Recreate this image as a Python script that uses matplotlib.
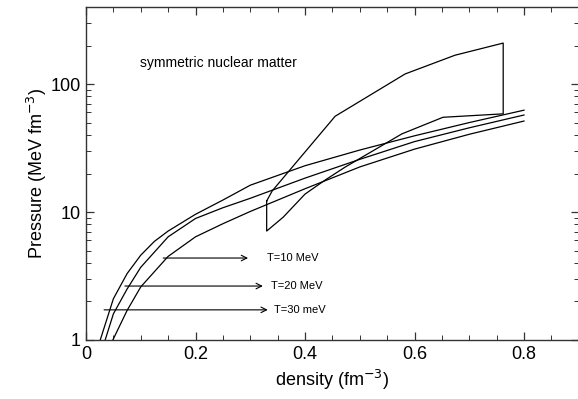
import matplotlib
matplotlib.use("Agg")
import matplotlib.pyplot as plt
from matplotlib.ticker import FixedLocator, FixedFormatter, MultipleLocator, LogLocator, NullFormatter

plt.rcParams['font.family'] = ['Liberation Sans', 'DejaVu Sans']

# T = 30 MeV (upper-left curve)
dens_t30 = [0.026, 0.05, 0.075, 0.1, 0.125, 0.15, 0.2, 0.25, 0.3, 0.4, 0.5, 0.6, 0.7, 0.8]
pres_t30 = [1.0, 2.1, 3.3, 4.6, 5.9, 7.1, 9.6, 12.4, 16.2, 23.0, 30.5, 39.4, 50.0, 62.5]
# T = 20 MeV
dens_t20 = [0.035, 0.05, 0.075, 0.1, 0.15, 0.2, 0.25, 0.3, 0.4, 0.5, 0.6, 0.7, 0.8]
pres_t20 = [1.0, 1.6, 2.5, 3.7, 6.4, 8.9, 10.8, 12.8, 18.4, 25.8, 35.5, 45.5, 57.3]
# T = 10 MeV
dens_t10 = [0.049, 0.075, 0.1, 0.15, 0.2, 0.25, 0.3, 0.4, 0.5, 0.6, 0.7, 0.8]
pres_t10 = [1.0, 1.7, 2.6, 4.5, 6.4, 8.1, 10.1, 15.2, 22.5, 31.0, 40.5, 51.4]

# band (closed region)
band_upper_x = [0.330, 0.340, 0.455, 0.583, 0.674, 0.762]
band_upper_y = [12.2, 14.6, 56.0, 120.0, 168.0, 209.0]
band_lower_x = [0.330, 0.360, 0.400, 0.437, 0.473, 0.577, 0.652, 0.762]
band_lower_y = [7.1, 9.1, 13.8, 17.8, 22.4, 40.8, 55.0, 58.5]

# arrows and labels
arrow_labels = ["T=10 MeV", "T=20 MeV", "T=30 meV"]
arrow_start_x = [0.141, 0.071, 0.033]
arrow_end_x = [0.296, 0.323, 0.332]
arrow_y = [4.37, 2.64, 1.72]
label_x = [0.330, 0.338, 0.343]

fig = plt.figure(figsize=(5.78, 3.99), dpi=100)
ax = fig.add_axes([86/578, 1-340/399, (578.75-86)/578, (340-7)/399])

for xs, ys in [(dens_t30, pres_t30), (dens_t20, pres_t20), (dens_t10, pres_t10)]:
    ax.plot(xs, ys, color='black', lw=0.9)

bx = band_upper_x + band_lower_x[::-1] + [band_upper_x[0]]
by = band_upper_y + band_lower_y[::-1] + [band_upper_y[0]]
ax.plot(bx, by, color='black', lw=0.9)

for lab, x0, x1, y, lx in zip(arrow_labels, arrow_start_x, arrow_end_x, arrow_y, label_x):
    ax.annotate("", xy=(x1, y), xytext=(x0, y),
                arrowprops=dict(arrowstyle='->', lw=0.8, color='black',
                                shrinkA=0, shrinkB=0, mutation_scale=10))
    ax.text(lx, y, lab, fontsize=8, va='center', ha='left')

ax.text(0.099, 146, "symmetric nuclear matter", fontsize=10, va='center', ha='left')

ax.set_yscale('log')
ax.set_xlim(0, 0.9)
ax.set_ylim(1, 400)

ax.xaxis.set_major_locator(FixedLocator([0, 0.2, 0.4, 0.6, 0.8]))
ax.xaxis.set_major_formatter(FixedFormatter(["0", "0.2", "0.4", "0.6", "0.8"]))
ax.xaxis.set_minor_locator(MultipleLocator(0.05))
ax.yaxis.set_major_locator(FixedLocator([1, 10, 100]))
ax.yaxis.set_major_formatter(FixedFormatter(["1", "10", "100"]))
ax.yaxis.set_minor_locator(LogLocator(base=10, subs=range(2, 10)))
ax.yaxis.set_minor_formatter(NullFormatter())

ax.tick_params(which='both', direction='in', top=True, right=True, labelsize=13, color='#333333')
ax.tick_params(which='major', length=6, width=0.9, pad=4)
ax.tick_params(which='minor', length=3.5, width=0.7)
for s in ax.spines.values():
    s.set_linewidth(1.0)
    s.set_color('#333333')

ax.set_xlabel("density (fm$^{-3}$)", fontsize=13, labelpad=4)
ax.set_ylabel("Pressure (MeV fm$^{-3}$)", fontsize=13, labelpad=1)

fig.savefig("out.png", dpi=100)
